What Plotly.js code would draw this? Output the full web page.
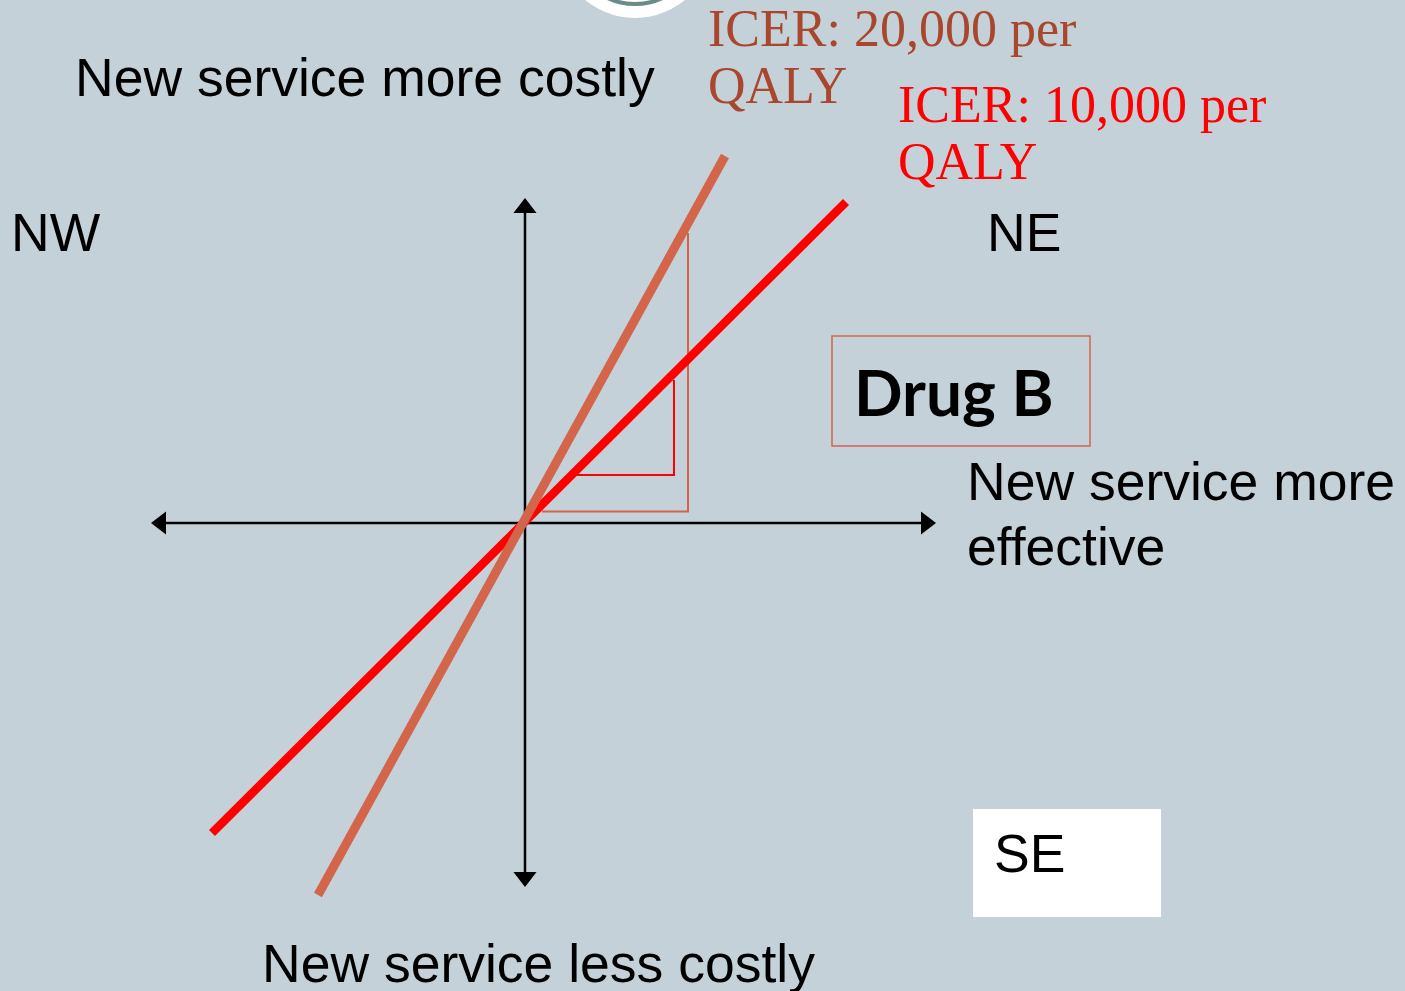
<!DOCTYPE html>
<html>
<head>
<meta charset="utf-8">
<script src="https://cdn.plot.ly/plotly-3.0.1.min.js"></script>
<style>html,body{margin:0;padding:0;background:#c5d1d8;overflow:hidden}#chart{width:1405px;height:991px}</style>
</head>
<body>
<div id="chart"></div>
<script>
// Cost-effectiveness plane, origin at the axis crossing (x: effectiveness, y: cost)
const effAxisX = [-374, 411];
const effAxisY = [0, 0];
const costAxisX = [0, 0];
const costAxisY = [-364, 325];
const icer10X = [-313, 321];
const icer10Y = [-310, 321];
const icer20X = [-207, 200];
const icer20Y = [-372, 367];
const tri10X = [52, 149, 149];
const tri10Y = [48, 48, 143];
const tri20X = [17, 163, 163];
const tri20Y = [11.5, 11.5, 290];
const icer10Label = ['ICER: 10,000 per', 'QALY'];
const icer20Label = ['ICER: 20,000 per', 'QALY'];
const quadrantLabels = ['NW', 'NE', 'SE'];
const axisLabels = ['New service more costly', 'New service less costly', 'New service more', 'effective'];
const drugLabel = 'Drug B';

const BG = '#c5d1d8';
const ARROW = 20;            // marker size
const R = ARROW / 2;         // tip offset from marker centre
const sans = 'Liberation Sans, Arial, sans-serif';
const serif = 'Liberation Serif, Times New Roman, serif';

const traces = [
  {x: [effAxisX[0] + R, effAxisX[1] - R], y: effAxisY, mode: 'lines', line: {color: '#000', width: 2.5}},
  {x: costAxisX, y: [costAxisY[0] + R, costAxisY[1] - R], mode: 'lines', line: {color: '#000', width: 2.5}},
  {x: [effAxisX[0] + R, effAxisX[1] - R], y: effAxisY, mode: 'markers',
   marker: {symbol: ['triangle-left', 'triangle-right'], size: ARROW, color: '#000'}},
  {x: costAxisX, y: [costAxisY[0] + R, costAxisY[1] - R], mode: 'markers',
   marker: {symbol: ['triangle-down', 'triangle-up'], size: ARROW, color: '#000'}},
  {x: tri20X, y: tri20Y, mode: 'lines', line: {color: '#d4634a', width: 2}},
  {x: tri10X, y: tri10Y, mode: 'lines', line: {color: '#ff0000', width: 2}},
  {x: icer10X, y: icer10Y, mode: 'lines', line: {color: '#ff0000', width: 8.5}},
  {x: icer20X, y: icer20Y, mode: 'lines', line: {color: '#d2654a', width: 9}}
];

function ann(text, x, y, size, color, family, extra) {
  return Object.assign({text: text, x: x, y: y, xref: 'x', yref: 'y', showarrow: false,
    xanchor: 'left', yanchor: 'middle', font: {size: size, color: color, family: family}}, extra || {});
}

// pixel helpers: origin is at pixel (525, 523)
const px = v => v - 525;
const py = v => 523 - v;

const annotations = [
  ann(axisLabels[0], px(73), py(77), 53.5, '#000', sans),
  ann(axisLabels[1], px(260), py(963), 53.5, '#000', sans),
  ann(axisLabels[2], px(965), py(481), 53.5, '#000', sans),
  ann(axisLabels[3], px(965), py(546), 53.5, '#000', sans),
  ann(quadrantLabels[0], px(9), py(232), 53.5, '#000', sans),
  ann(quadrantLabels[1], px(985), py(232), 53.5, '#000', sans),
  ann(quadrantLabels[2], px(992), py(853), 53.5, '#000', sans),
  ann('<b>' + drugLabel + '</b>', px(852), py(391), 64, '#000', 'Lato, Carlito, sans-serif'),
  ann(icer20Label[0], px(706), py(28), 52, '#a9472e', serif),
  ann(icer20Label[1], px(706), py(85), 52, '#a9472e', serif),
  ann(icer10Label[0], px(896), py(104), 52, '#ff0000', serif),
  ann(icer10Label[1], px(896), py(161), 52, '#ff0000', serif)
];

const shapes = [
  // decorative logo disc cut by the top edge
  {type: 'circle', xref: 'x', yref: 'y', x0: px(557), x1: px(713), y0: py(-138), y1: py(18),
   fillcolor: '#ffffff', line: {width: 0}, layer: 'below'},
  {type: 'circle', xref: 'x', yref: 'y', x0: px(571), x1: px(699), y0: py(-124), y1: py(4),
   fillcolor: 'rgba(0,0,0,0)', line: {width: 4, color: '#6b8b88'}, layer: 'below'},
  {type: 'rect', xref: 'x', yref: 'y', x0: px(832), x1: px(1090), y0: py(336), y1: py(446),
   fillcolor: 'rgba(0,0,0,0)', line: {width: 1.5, color: '#d4634a'}},
  {type: 'rect', xref: 'x', yref: 'y', x0: px(973), x1: px(1161), y0: py(809), y1: py(917),
   fillcolor: '#ffffff', line: {width: 0}, layer: 'below'}
];

const layout = {
  width: 1405, height: 991,
  margin: {l: 0, r: 0, t: 0, b: 0, pad: 0},
  paper_bgcolor: BG, plot_bgcolor: BG,
  showlegend: false,
  xaxis: {range: [-525, 880], visible: false, fixedrange: true},
  yaxis: {range: [-468, 523], visible: false, fixedrange: true},
  annotations: annotations,
  shapes: shapes
};

Plotly.newPlot('chart', traces, layout, {displayModeBar: false, staticPlot: true});
</script>
</body>
</html>
